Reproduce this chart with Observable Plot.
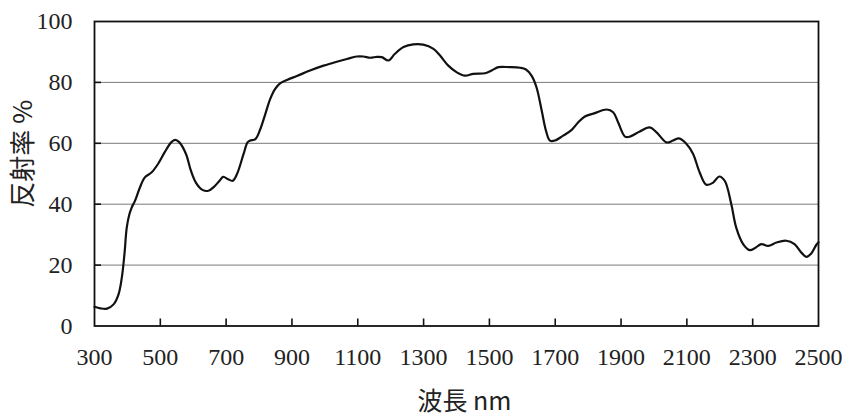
<!DOCTYPE html>
<html>
<head>
<meta charset="utf-8">
<script src="https://cdn.jsdelivr.net/npm/d3@7"></script>
<script src="https://cdn.jsdelivr.net/npm/@observablehq/plot@0.6"></script>
<style>
  html, body { margin: 0; padding: 0; background: #fff; }
  #chart svg g[aria-label$="tick label"] text { font-family: "Liberation Serif", "Times New Roman", serif !important; }
</style>
</head>
<body>
<div id="chart"></div>
<script>
const wavelength = [300,318,338,358,373,383,391,398,406,413,423,438,453,473,493,513,533,545,558,578,593,608,628,646,663,680,691,706,720,733,753,765,773,789,804,819,834,849,864,885,915,955,996,1036,1067,1097,1117,1138,1158,1173,1193,1213,1239,1269,1299,1330,1350,1375,1401,1426,1451,1487,1507,1527,1562,1593,1610,1628,1643,1659,1672,1684,1699,1724,1750,1770,1790,1820,1856,1876,1891,1912,1927,1957,1987,2008,2038,2058,2076,2099,2119,2139,2159,2180,2198,2215,2235,2250,2271,2291,2306,2326,2347,2372,2402,2427,2448,2463,2478,2493,2500];
const reflectance = [6.3,5.8,5.7,7.1,10.4,15.9,23.6,32.3,36.7,38.9,41.1,45.5,48.8,50.4,53.2,57,60.3,61.1,60.3,56.5,51,47.1,44.7,44.4,45.7,47.7,49,48.2,47.7,49.9,56.5,60.3,60.9,61.4,64.7,69.6,74.6,77.9,79.7,80.8,82.1,83.9,85.5,86.8,87.7,88.5,88.5,88.1,88.4,88.3,87.2,89.4,91.6,92.5,92.4,91,88.8,85.5,83.3,82.2,82.8,83,83.9,85,85,84.8,84.3,82.2,78.4,70.7,64.1,60.9,60.9,62.5,64.4,66.9,68.8,69.9,71.1,70.2,66.9,62.2,62.2,63.9,65.2,63.6,60.3,60.9,61.6,59.8,56.5,50.4,46.4,47.1,49.1,47.7,40,32.3,26.9,24.9,25.5,26.9,26.3,27.4,28,26.9,24.1,22.7,23.8,26.6,27.5];
const xTicks = [300,500,700,900,1100,1300,1500,1700,1900,2100,2300,2500];
const yTicks = [0,20,40,60,80,100];
const gridTicks = [20,40,60,80];
const innerTicksX = [500,700,900,1100,1300,1500,1700,1900,2100,2300];
const xLabel = "波長 nm";
const yLabel = "反射率 %";

const data = wavelength.map((w, i) => ({w, r: reflectance[i]}));

const W = 844, H = 417;
const mL = 94, mR = 26, mT = 21, mB = 91.5;
const plotW = W - mL - mR, plotH = H - mT - mB;
const serif = "Liberation Serif, Times New Roman, serif";
const cjk = "Noto Sans CJK JP, Noto Sans CJK SC, sans-serif";

const chart = Plot.plot({
  width: W,
  height: H,
  marginLeft: mL,
  marginRight: mR,
  marginTop: mT,
  marginBottom: mB,
  style: {fontFamily: serif, fontSize: "24px", color: "#222", background: "#fff"},
  x: {domain: [300, 2500]},
  y: {domain: [0, 100]},
  marks: [
    Plot.gridY(gridTicks, {stroke: "#7a7a7a", strokeOpacity: 1, strokeWidth: 1}),
    Plot.tickX(innerTicksX, {x: d => d, insetTop: plotH - 7, stroke: "#111", strokeWidth: 1.6}),
    Plot.tickY(gridTicks, {y: d => d, insetRight: plotW - 7, stroke: "#111", strokeWidth: 1.6}),
    Plot.axisX({ticks: xTicks, tickSize: 0, tickPadding: 22, tickFormat: d => String(d), fontSize: 24, fill: "#222", label: null}),
    Plot.axisY({ticks: yTicks, tickSize: 0, tickPadding: 22, tickFormat: d => String(d), fontSize: 24, fill: "#222", label: null}),
    Plot.frame({stroke: "#111", strokeWidth: 1.8}),
    Plot.line(data, {x: "w", y: "r", curve: "catmull-rom", stroke: "#111", strokeWidth: 2.2}),
    Plot.text([xLabel], {frameAnchor: "bottom", dy: 76, dx: 8, text: d => d, fontFamily: cjk, fontSize: 25, fill: "#222", textAnchor: "middle", lineAnchor: "middle"}),
    Plot.text([yLabel], {frameAnchor: "left", dx: -71, dy: -20, rotate: -90, text: d => d, fontFamily: cjk, fontSize: 26, fill: "#222", textAnchor: "middle", lineAnchor: "middle"})
  ]
});
document.getElementById("chart").appendChild(chart);
</script>
</body>
</html>
